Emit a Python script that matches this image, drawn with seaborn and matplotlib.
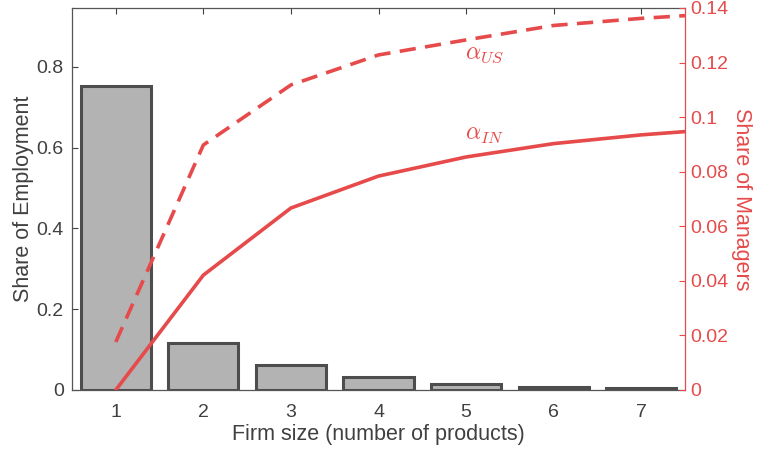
import matplotlib
matplotlib.use("Agg")
import matplotlib.pyplot as plt
import seaborn as sns
import pandas as pd

# Employment share by firm size (number of products)
firm_size = [1, 2, 3, 4, 5, 6, 7]
employment_share = [0.753, 0.117, 0.062, 0.032, 0.015, 0.007, 0.004]

# Share of managers, by firm size
alpha_x = [1, 2, 3, 4, 5, 6, 7, 7.5]
alpha_us = [0.0176, 0.0898, 0.1118, 0.1228, 0.1283, 0.1336, 0.1362, 0.1372]
alpha_in = [0.0, 0.0421, 0.0667, 0.0784, 0.0854, 0.0903, 0.0935, 0.0947]

GRAY = "#404040"
RED = "#e64a4a"
FS = 14
LABEL_FS = 15.5

sns.set_theme(style="white")
plt.rcParams["font.family"] = ["Liberation Sans", "DejaVu Sans"]
plt.rcParams["mathtext.fontset"] = "cm"

fig = plt.figure(figsize=(7.57, 4.55), dpi=100)
ax = fig.add_axes([72 / 757, 1 - 390 / 455, (685 - 72) / 757, (390 - 8) / 455])

bars = pd.DataFrame({"size": firm_size, "share": employment_share})
sns.barplot(data=bars, x="size", y="share", native_scale=True, width=0.8,
            color="#b3b3b3", saturation=1, edgecolor="#4d4d4d", linewidth=2.2,
            ax=ax)
ax.set_xlim(0.5, 7.5)
ax.set_ylim(0, 0.946)
ax.set_xticks(firm_size)
ax.set_yticks([0, 0.2, 0.4, 0.6, 0.8])
ax.set_yticklabels(["0", "0.2", "0.4", "0.6", "0.8"])
ax.set_xlabel("Firm size (number of products)", fontsize=LABEL_FS, color=GRAY,
              labelpad=2)
ax.set_ylabel("Share of Employment", fontsize=LABEL_FS, color=GRAY, labelpad=2)
ax.tick_params(axis="both", direction="in", length=4, width=0.8, colors=GRAY,
               labelsize=FS, top=True)
ax.tick_params(axis="x", pad=10)
ax.tick_params(axis="y", pad=6)
for side in ["left", "bottom", "top"]:
    ax.spines[side].set_color("#555555")
    ax.spines[side].set_linewidth(0.9)
ax.spines["right"].set_visible(False)

ax2 = ax.twinx()
lines = pd.DataFrame({"size": alpha_x, "us": alpha_us, "in": alpha_in})
sns.lineplot(data=lines, x="size", y="us", color=RED, linewidth=2.6,
             dashes=False, ax=ax2).lines[0].set_dashes((4.5, 2.6))
sns.lineplot(data=lines, x="size", y="in", color=RED, linewidth=2.6, ax=ax2)
ax2.set_xlim(0.5, 7.5)
ax2.set_ylim(0, 0.14)
ax2.set_yticks([0, 0.02, 0.04, 0.06, 0.08, 0.1, 0.12, 0.14])
ax2.set_yticklabels(["0", "0.02", "0.04", "0.06", "0.08", "0.1", "0.12", "0.14"])
ax2.set_ylabel("Share of Managers", fontsize=LABEL_FS, color=RED, rotation=270,
               labelpad=17)
ax2.set_xlabel("")
ax2.tick_params(axis="y", direction="in", length=4, width=0.8, colors=RED,
                labelsize=FS, pad=4)
for side in ["left", "bottom", "top"]:
    ax2.spines[side].set_visible(False)
ax2.spines["right"].set_color(RED)
ax2.spines["right"].set_linewidth(0.9)

ax2.text(4.99, 0.1213, r"$\alpha_{US}$", color=RED, fontsize=17)
ax2.text(4.99, 0.0915, r"$\alpha_{IN}$", color=RED, fontsize=17)

fig.savefig("out.png", dpi=100)
